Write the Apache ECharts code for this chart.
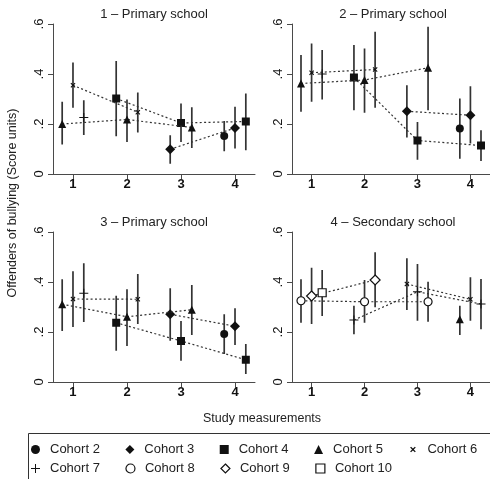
<!DOCTYPE html>
<html><head><meta charset="utf-8">
<script src="https://cdn.jsdelivr.net/npm/echarts@6/dist/echarts.min.js"></script>
<style>html,body{margin:0;padding:0;background:#fff}#c{width:490px;height:479px}</style>
</head><body><div id="c"></div>
<script>
// ---------------- DATA ----------------
const measurements = [1, 2, 3, 4];
const xTickLabels = ['1', '2', '3', '4'];
const yTicks = [0, 0.2, 0.4, 0.6];
const yTickLabels = ['0', '.2', '.4', '.6'];
const cohorts = ['Cohort 2', 'Cohort 3', 'Cohort 4', 'Cohort 5', 'Cohort 6',
                 'Cohort 7', 'Cohort 8', 'Cohort 9', 'Cohort 10'];
const panelTitles = ['1 \u2013 Primary school', '2 \u2013 Primary school',
                     '3 \u2013 Primary school', '4 \u2013 Secondary school'];
const yAxisTitle = 'Offenders of bullying (Score units)';
const xAxisTitle = 'Study measurements';
const _ = null;

// rows: Cohort 2..10 ; columns: measurement 1..4
const p1Est = [[_,_,_,0.152],[_,_,0.099,0.184],[_,0.302,0.204,0.210],[0.200,0.218,0.186,_],[0.355,0.247,_,_],[0.226,_,_,_],[_,_,_,_],[_,_,_,_],[_,_,_,_]];
const p1Lo  = [[_,_,_,0.091],[_,_,0.041,0.102],[_,0.151,0.128,0.095],[0.118,0.128,0.104,_],[0.265,0.166,_,_],[0.156,_,_,_],[_,_,_,_],[_,_,_,_],[_,_,_,_]];
const p1Hi  = [[_,_,_,0.212],[_,_,0.155,0.269],[_,0.452,0.282,0.322],[0.289,0.298,0.267,_],[0.446,0.326,_,_],[0.295,_,_,_],[_,_,_,_],[_,_,_,_],[_,_,_,_]];

const p2Est = [[_,_,_,0.182],[_,_,0.251,0.235],[_,0.386,0.134,0.114],[0.362,0.376,0.425,_],[0.405,0.418,_,_],[0.400,_,_,_],[_,_,_,_],[_,_,_,_],[_,_,_,_]];
const p2Lo  = [[_,_,_,0.061],[_,_,0.146,0.122],[_,0.255,0.057,0.052],[0.249,0.245,0.255,_],[0.289,0.265,_,_],[0.298,_,_,_],[_,_,_,_],[_,_,_,_],[_,_,_,_]];
const p2Hi  = [[_,_,_,0.302],[_,_,0.355,0.351],[_,0.516,0.208,0.175],[0.476,0.502,0.589,_],[0.522,0.569,_,_],[0.496,_,_,_],[_,_,_,_],[_,_,_,_],[_,_,_,_]];

const p3Est = [[_,_,_,0.192],[_,_,0.271,0.223],[_,0.237,0.164,0.089],[0.311,0.261,0.289,_],[0.332,0.331,_,_],[0.355,_,_,_],[_,_,_,_],[_,_,_,_],[_,_,_,_]];
const p3Lo  = [[_,_,_,0.112],[_,_,0.165,0.148],[_,0.125,0.085,0.032],[0.204,0.144,0.188,_],[0.220,0.232,_,_],[0.240,_,_,_],[_,_,_,_],[_,_,_,_],[_,_,_,_]];
const p3Hi  = [[_,_,_,0.271],[_,_,0.375,0.295],[_,0.345,0.244,0.152],[0.411,0.371,0.388,_],[0.443,0.432,_,_],[0.475,_,_,_],[_,_,_,_],[_,_,_,_],[_,_,_,_]];

const p4Est = [[_,_,_,_],[_,_,_,_],[_,_,_,_],[_,_,_,0.251],[_,_,0.392,0.331],[_,0.248,0.361,0.312],[0.325,0.321,0.321,_],[0.344,0.408,_,_],[0.357,_,_,_]];
const p4Lo  = [[_,_,_,_],[_,_,_,_],[_,_,_,_],[_,_,_,0.188],[_,_,0.288,0.245],[_,0.191,0.245,0.211],[0.237,0.237,0.241,_],[0.232,0.299,_,_],[0.264,_,_,_]];
const p4Hi  = [[_,_,_,_],[_,_,_,_],[_,_,_,_],[_,_,_,0.305],[_,_,0.495,0.419],[_,0.305,0.472,0.412],[0.411,0.408,0.401,_],[0.457,0.519,_,_],[0.448,_,_,_]];

const panelEst = [p1Est, p2Est, p3Est, p4Est];
const panelLo = [p1Lo, p2Lo, p3Lo, p4Lo];
const panelHi = [p1Hi, p2Hi, p3Hi, p4Hi];

// ---------------- STYLE ----------------
const FONT = '"Liberation Sans", Arial, Helvetica, sans-serif';
const X_PATH = 'path://M0,1.6L1.6,0L5,3.4L8.4,0L10,1.6L6.6,5L10,8.4L8.4,10L5,6.6L1.6,10L0,8.4L3.4,5Z';
const X_PATH_LEG = 'path://M-3,-3M13,13M0,1.6L1.6,0L5,3.4L8.4,0L10,1.6L6.6,5L10,8.4L8.4,10L5,6.6L1.6,10L0,8.4L3.4,5Z';
const PLUS_PATH = 'path://M4.45,0L5.55,0L5.55,4.45L10,4.45L10,5.55L5.55,5.55L5.55,10L4.45,10L4.45,5.55L0,5.55L0,4.45L4.45,4.45Z';
const cohortSymbols = ['circle', 'diamond', 'rect', 'triangle', X_PATH, PLUS_PATH, 'circle', 'diamond', 'rect'];
const legendIcons   = ['circle', 'diamond', 'rect', 'triangle', X_PATH_LEG, PLUS_PATH, 'circle', 'diamond', 'rect'];
const cohortSizes = [8, 10, 8, 8, 5, 9, 8, 10, 8];
const cohortHollow = [false, false, false, false, false, false, true, true, true];
const grids = [
  {left: 53, top: 24, width: 202, height: 150},
  {left: 292, top: 24, width: 202, height: 150},
  {left: 53, top: 232, width: 202, height: 150},
  {left: 292, top: 232, width: 202, height: 150}
];
const AXIS_COLOR = '#4a4a4a';
const LINE_COLOR = '#333';

function itemStyleFor(c) {
  return cohortHollow[c]
    ? {color: '#fff', borderColor: '#111', borderWidth: 1.2}
    : {color: '#111', borderWidth: 0};
}

// ---------------- BUILD ----------------
const xAxes = [], yAxes = [], series = [], graphics = [];
grids.forEach((g, p) => {
  xAxes.push({
    type: 'value', gridIndex: p, min: 0.63, max: 4.37,
    axisLine: {lineStyle: {color: AXIS_COLOR, width: 1}},
    axisTick: {show: true, length: 5, lineStyle: {color: AXIS_COLOR}, customValues: measurements},
    axisLabel: {customValues: measurements, formatter: v => xTickLabels[measurements.indexOf(Math.round(v))],
      fontSize: 13, fontWeight: 'bold', color: '#111', fontFamily: FONT, margin: 4},
    splitLine: {show: false}
  });
  yAxes.push({
    type: 'value', gridIndex: p, min: 0, max: 0.6, interval: 0.2,
    axisLine: {show: true, lineStyle: {color: AXIS_COLOR, width: 1}},
    axisTick: {show: true, length: 5, lineStyle: {color: AXIS_COLOR}},
    axisLabel: {rotate: 90, fontSize: 13, color: '#111', fontFamily: FONT, margin: 7,
      formatter: v => yTickLabels[yTicks.findIndex(t => Math.abs(t - v) < 1e-6)]},
    splitLine: {show: false}
  });
  graphics.push({type: 'text', x: g.left + g.width / 2, y: g.top - 10,
    style: {text: panelTitles[p], font: '13px ' + FONT, fill: '#222', align: 'center', verticalAlign: 'middle'}});

  const est = panelEst[p], lo = panelLo[p], hi = panelHi[p];
  // x position: at each measurement, present cohorts are dodged by -0.2, 0, +0.2
  const xpos = est.map(() => [null, null, null, null]);
  measurements.forEach((m, mi) => {
    const present = [];
    est.forEach((row, c) => { if (row[mi] != null) present.push(c); });
    present.forEach((c, r) => { xpos[c][mi] = m + (r - (present.length - 1) / 2) * 0.2; });
  });
  const ciData = [];
  est.forEach((row, c) => row.forEach((v, mi) => {
    if (v != null) ciData.push([xpos[c][mi], lo[c][mi], hi[c][mi]]);
  }));
  series.push({
    type: 'custom', name: 'ci' + p, xAxisIndex: p, yAxisIndex: p, z: 2, silent: true,
    data: ciData, encode: {x: 0, y: [1, 2]},
    renderItem: (params, api) => {
      const a = api.coord([api.value(0), api.value(1)]);
      const b = api.coord([api.value(0), api.value(2)]);
      return {type: 'line', shape: {x1: a[0], y1: a[1], x2: b[0], y2: b[1]},
        style: {stroke: LINE_COLOR, lineWidth: 1.7}};
    }
  });
  est.forEach((row, c) => {
    const pts = [];
    row.forEach((v, mi) => { if (v != null) pts.push([xpos[c][mi], v]); });
    if (!pts.length) return;
    series.push({
      type: 'line', name: cohorts[c], xAxisIndex: p, yAxisIndex: p, z: 3 + c * 0.01,
      data: pts, symbol: cohortSymbols[c], symbolSize: cohortSizes[c], showSymbol: true,
      itemStyle: itemStyleFor(c), silent: true, emphasis: {disabled: true},
      lineStyle: {color: LINE_COLOR, width: 1.2, type: [2, 2.4]}, clip: false
    });
  });
});

graphics.push({type: 'text', x: 13, y: 203, rotation: Math.PI / 2,
  style: {text: yAxisTitle, font: '12.5px ' + FONT, fill: '#222', align: 'center', verticalAlign: 'middle'}});
graphics.push({type: 'text', x: 262, y: 419,
  style: {text: xAxisTitle, font: '12.5px ' + FONT, fill: '#222', align: 'center', verticalAlign: 'middle'}});
graphics.push({type: 'rect', shape: {x: 28.5, y: 433.5, width: 480, height: 60},
  style: {fill: 'none', stroke: '#333', lineWidth: 1}});

function legendRow(idx, top) {
  return {
    top: top, left: 31, orient: 'horizontal', itemWidth: 9, itemHeight: 9, itemGap: 25.5,
    selectedMode: false, padding: 0,
    textStyle: {fontSize: 13, color: '#222', fontFamily: FONT, width: 58, padding: [0, 0, 0, 5]},
    data: idx.map(c => ({name: cohorts[c], icon: legendIcons[c], itemStyle: itemStyleFor(c)}))
  };
}

const chart = echarts.init(document.getElementById('c'), null, {renderer: 'canvas'});
chart.setOption({
  backgroundColor: '#fff',
  animation: false,
  textStyle: {fontFamily: FONT},
  grid: grids,
  xAxis: xAxes,
  yAxis: yAxes,
  legend: [legendRow([0, 1, 2, 3, 4], 443), legendRow([5, 6, 7, 8], 462)],
  graphic: graphics,
  series: series
});
</script></body></html>
